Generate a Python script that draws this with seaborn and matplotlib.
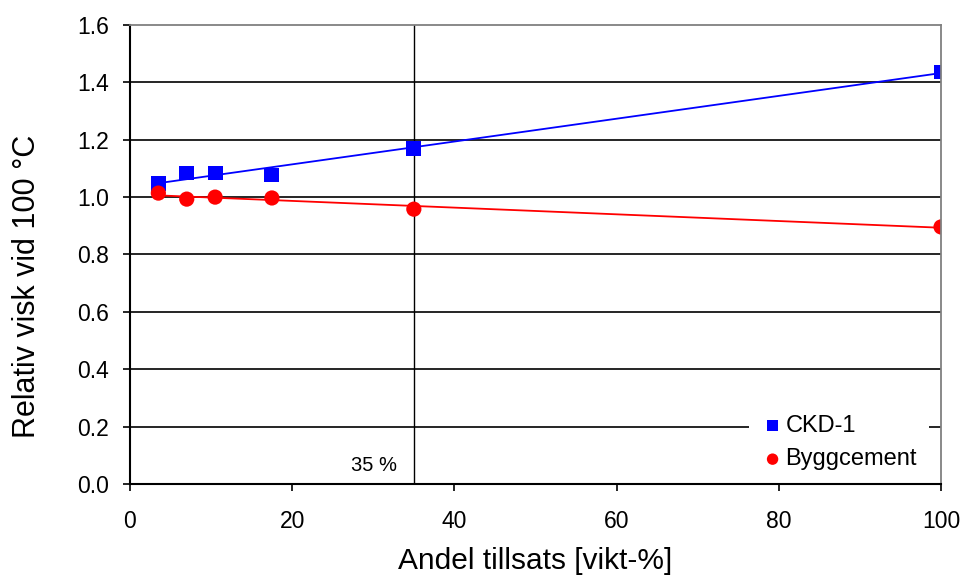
import matplotlib
matplotlib.use("Agg")
import matplotlib.pyplot as plt
import seaborn as sns
import pandas as pd

# Additive share (wt-%) and relative viscosity at 100 °C
andel = [3.5, 7, 10.5, 17.5, 35, 100]
ckd1 = [1.046, 1.084, 1.084, 1.077, 1.171, 1.436]
byggcement = [1.014, 0.993, 1.000, 0.997, 0.958, 0.896]

x_ticks = [0, 20, 40, 60, 80, 100]
y_ticks = [0.0, 0.2, 0.4, 0.6, 0.8, 1.0, 1.2, 1.4, 1.6]
marker_line = 35

sns.set_theme(style="white")
plt.rcParams["font.family"] = ["Liberation Sans", "DejaVu Sans"]
plt.rcParams["text.color"] = "black"
plt.rcParams["axes.labelcolor"] = "black"
plt.rcParams["xtick.color"] = "black"
plt.rcParams["ytick.color"] = "black"

df = pd.DataFrame({"andel": andel, "CKD-1": ckd1, "Byggcement": byggcement})

fig = plt.figure(figsize=(9.62, 5.77), dpi=100)
ax = fig.add_axes([0.1351, 0.1612, 0.9782 - 0.1351, 0.9567 - 0.1612])

# horizontal grid
for yv in y_ticks[1:-1]:
    ax.axhline(yv, color="black", lw=1.2, zorder=0)

ax.axvline(marker_line, color="black", lw=1.0, zorder=1)
ax.text(marker_line - 2.1, 0.063, f"{marker_line} %", ha="right", va="center",
        fontsize=14.5, color="black")

# linear trend lines
sns.regplot(data=df, x="andel", y="CKD-1", ax=ax, ci=None, truncate=True,
            scatter=False, line_kws=dict(color="#0000FF", lw=1.3, zorder=2))
sns.regplot(data=df, x="andel", y="Byggcement", ax=ax, ci=None, truncate=True,
            scatter=False, line_kws=dict(color="#FF0000", lw=1.3, zorder=2))

# measured points
sns.scatterplot(data=df, x="andel", y="CKD-1", ax=ax, marker="s", s=115,
                color="#0000FF", edgecolor="none", zorder=3, label="CKD-1")
sns.scatterplot(data=df, x="andel", y="Byggcement", ax=ax, marker="o", s=120,
                color="#FF0000", edgecolor="none", zorder=3, label="Byggcement")

ax.set_xlim(0, 100)
ax.set_ylim(0, 1.6)
ax.set_xticks(x_ticks)
ax.set_yticks(y_ticks)
ax.set_yticklabels([f"{v:.1f}" for v in y_ticks])
ax.tick_params(axis="both", which="major", direction="out", length=5, width=1.2,
               color="black", labelsize=16.5, left=True, bottom=True)
ax.tick_params(axis="x", pad=14)
ax.tick_params(axis="y", pad=10)

for side in ("left", "bottom"):
    ax.spines[side].set_color("black")
    ax.spines[side].set_linewidth(1.5)
    ax.spines[side].set_zorder(6)
for side in ("top", "right"):
    ax.spines[side].set_color("#808080")
    ax.spines[side].set_linewidth(1.3)
    ax.spines[side].set_zorder(6)

ax.set_xlabel("Andel tillsats [vikt-%]", fontsize=21.5, labelpad=10)
ax.set_ylabel("Relativ visk vid 100 °C", fontsize=22)
ax.yaxis.set_label_coords(-0.108, 0.43)

leg = ax.legend(loc="lower right", bbox_to_anchor=(0.985, 0.004), frameon=True,
                fontsize=17, handletextpad=0.05, markerscale=0.75,
                labelspacing=0.5, borderpad=0.5, handlelength=1.0,
                borderaxespad=0.0)
leg.get_frame().set_facecolor("white")
leg.get_frame().set_edgecolor("none")
leg.get_frame().set_alpha(1.0)
leg.set_zorder(5)

fig.savefig("out.png", dpi=100)
